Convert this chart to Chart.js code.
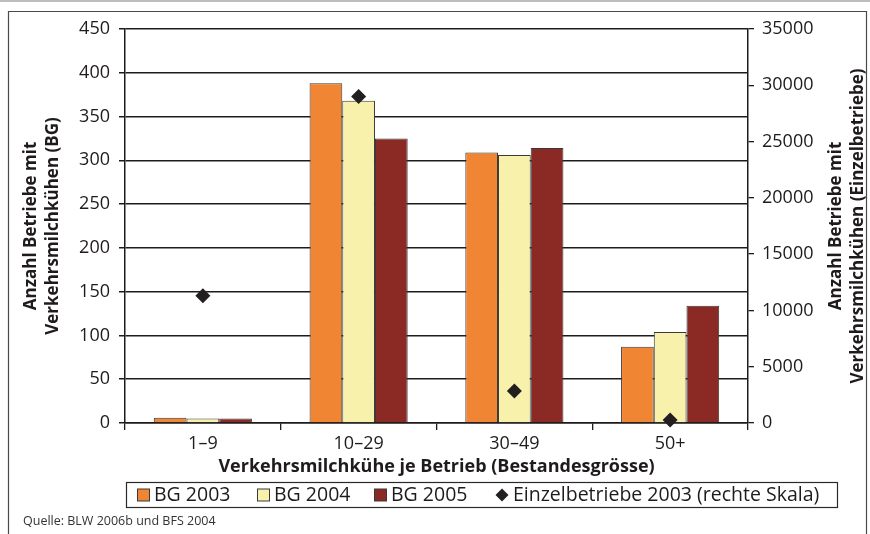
<!DOCTYPE html>
<html>
<head>
<meta charset="utf-8">
<script src="https://cdn.jsdelivr.net/npm/chart.js@4.4.1/dist/chart.umd.min.js"></script>
<style>
  html, body { margin: 0; padding: 0; background: #fff; }
  #wrap { position: relative; width: 870px; height: 534px; overflow: hidden; }
  #c { position: absolute; left: 0; top: 0; }
</style>
</head>
<body>
<div id="wrap"><canvas id="c" width="870" height="534"></canvas></div>
<script>
// Bestandesgrössen (Verkehrsmilchkühe je Betrieb)
const categories = ['1–9', '10–29', '30–49', '50+'];

// Anzahl Betriebsgemeinschaften (linke Skala)
const bg2003 = [6, 388, 309, 87];
const bg2004 = [5, 368, 306, 104];
const bg2005 = [5, 325, 314, 134];

// Einzelbetriebe 2003 (rechte Skala)
const einzel2003 = [11300, 29000, 2850, 270];

// Achsen
const leftMax = 450, leftStep = 50;
const rightMax = 35000, rightStep = 5000;

const seriesNames = ['BG 2003', 'BG 2004', 'BG 2005', 'Einzelbetriebe 2003 (rechte Skala)'];
const xTitle = 'Verkehrsmilchkühe je Betrieb (Bestandesgrösse)';
const leftTitle = ['Anzahl Betriebe mit', 'Verkehrsmilchkühen (BG)'];
const rightTitle = ['Anzahl Betriebe mit', 'Verkehrsmilchkühen (Einzelbetriebe)'];
const sourceNote = 'Quelle: BLW 2006b und BFS 2004';

const FONT = '"Open Sans", "DejaVu Sans", sans-serif';
const INK = '#1f1b1c';
const colors = ['#f08533', '#f7f1ab', '#8b2a25'];
const barEdge = '#3a3a3a';

// Titles, legend, source line and frame drawn onto the same canvas
const decorations = {
  id: 'decorations',
  afterDraw(chart) {
    const ctx = chart.ctx;
    const area = chart.chartArea;
    const midY = (area.top + area.bottom) / 2;
    ctx.save();

    // frame
    ctx.strokeStyle = '#bdbdbd';
    ctx.lineWidth = 2;
    ctx.beginPath(); ctx.moveTo(0, 1); ctx.lineTo(870, 1); ctx.stroke();
    ctx.strokeStyle = '#4a4a4a';
    ctx.lineWidth = 1.2;
    ctx.beginPath();
    ctx.moveTo(8.5, 534); ctx.lineTo(8.5, 11.5); ctx.lineTo(866.5, 11.5); ctx.lineTo(866.5, 534);
    ctx.stroke();

    // axis titles
    ctx.fillStyle = INK;
    ctx.textAlign = 'center';
    ctx.textBaseline = 'middle';
    ctx.font = 'bold 17px ' + FONT;
    const vertical = (lines, x) => {
      ctx.save();
      ctx.translate(x, midY);
      ctx.rotate(-Math.PI / 2);
      lines.forEach((t, i) => ctx.fillText(t, 0, i * 22));
      ctx.restore();
    };
    vertical(leftTitle, 31);
    vertical(rightTitle, 836);
    ctx.font = 'bold 18px ' + FONT;
    ctx.fillText(xTitle, (area.left + area.right) / 2, 467);

    // legend
    ctx.strokeStyle = '#2a2a2a';
    ctx.lineWidth = 1.2;
    ctx.strokeRect(126.5, 482.5, 711, 25);
    const spots = [137, 257, 374, 496];
    const cy = 495;
    ctx.font = '19.5px ' + FONT;
    ctx.textAlign = 'left';
    chart.data.datasets.forEach((ds, i) => {
      const x = spots[i];
      if (ds.type === 'line') {
        ctx.fillStyle = ds.pointBackgroundColor;
        ctx.beginPath();
        ctx.moveTo(x + 6, cy - 6.5); ctx.lineTo(x + 12.5, cy);
        ctx.lineTo(x + 6, cy + 6.5); ctx.lineTo(x - 0.5, cy);
        ctx.closePath(); ctx.fill();
      } else {
        ctx.fillStyle = ds.backgroundColor;
        ctx.fillRect(x + 0.5, cy - 6, 12, 12);
        ctx.strokeStyle = barEdge;
        ctx.lineWidth = 1;
        ctx.strokeRect(x + 0.5, cy - 6, 12, 12);
      }
      ctx.fillStyle = INK;
      ctx.fillText(ds.label, x + 17, cy);
    });

    // source
    ctx.font = '12.5px ' + FONT;
    ctx.fillStyle = '#333';
    ctx.fillText(sourceNote, 23, 521);
    ctx.restore();
  }
};

const plainNumber = v => String(v);

new Chart(document.getElementById('c'), {
  type: 'bar',
  data: {
    labels: categories,
    datasets: [
      { label: seriesNames[0], data: bg2003, backgroundColor: colors[0], borderColor: barEdge, borderWidth: 1, yAxisID: 'y', order: 1 },
      { label: seriesNames[1], data: bg2004, backgroundColor: colors[1], borderColor: barEdge, borderWidth: 1, yAxisID: 'y', order: 1 },
      { label: seriesNames[2], data: bg2005, backgroundColor: colors[2], borderColor: barEdge, borderWidth: 1, yAxisID: 'y', order: 1 },
      { type: 'line', label: seriesNames[3], data: einzel2003, yAxisID: 'y2', order: 0,
        showLine: false, pointStyle: 'rectRot', pointRadius: 7.5, pointBorderWidth: 0,
        pointBackgroundColor: '#231f20', pointBorderColor: '#231f20', clip: false }
    ]
  },
  options: {
    responsive: false,
    animation: false,
    devicePixelRatio: 1,
    layout: { padding: { top: 29, left: 0, right: 0, bottom: 0 } },
    datasets: { bar: { categoryPercentage: 0.63, barPercentage: 1.0 } },
    plugins: { legend: { display: false }, tooltip: { enabled: false } },
    scales: {
      x: {
        grid: { display: true, drawOnChartArea: false, drawTicks: true, tickLength: 7, color: INK, lineWidth: 1.3, offset: true },
        border: { display: true, color: INK, width: 1.5 },
        ticks: { color: INK, font: { family: FONT, size: 18 }, padding: 3 },
        afterFit: s => { s.height = 111; }
      },
      y: {
        position: 'left',
        min: 0, max: leftMax,
        ticks: { stepSize: leftStep, color: INK, font: { family: FONT, size: 18 }, padding: 9, callback: plainNumber },
        grid: { color: INK, lineWidth: 1.5, tickLength: 6 },
        border: { display: true, color: INK, width: 1.5 },
        afterFit: s => { s.width = 125; }
      },
      y2: {
        position: 'right',
        min: 0, max: rightMax,
        ticks: { stepSize: rightStep, color: INK, font: { family: FONT, size: 18 }, padding: 8, callback: plainNumber },
        grid: { drawOnChartArea: false, color: INK, lineWidth: 1.3, tickLength: 6 },
        border: { display: true, color: INK, width: 1.5 },
        afterFit: s => { s.width = 122; }
      }
    }
  },
  plugins: [decorations]
});
</script>
</body>
</html>
